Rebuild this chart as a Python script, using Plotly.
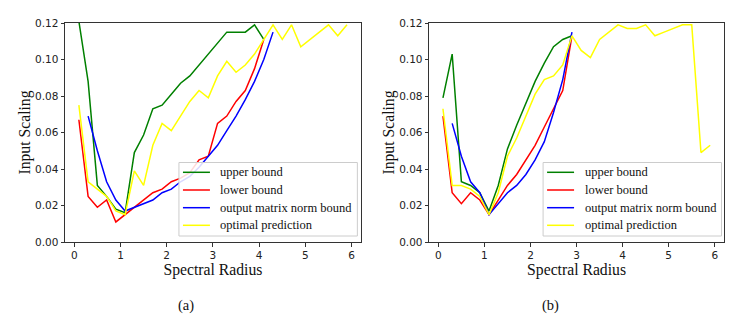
import plotly.graph_objects as go

x_all = [round(0.1 + 0.2 * i, 1) for i in range(30)]

# Panel (a)
a_upper_x = x_all[:21]
a_upper = [0.121, 0.088, 0.031, 0.025, 0.018, 0.016, 0.049, 0.0586, 0.073, 0.075, 0.081,
           0.087, 0.091, 0.097, 0.103, 0.109, 0.115, 0.115, 0.115, 0.119, 0.111]
a_lower_x = x_all[:21]
a_lower = [0.067, 0.025, 0.019, 0.023, 0.011, 0.015, 0.019, 0.023, 0.027, 0.029, 0.033,
           0.035, 0.038, 0.045, 0.047, 0.065, 0.069, 0.077, 0.083, 0.095, 0.111]
a_norm_x = x_all[1:22]
a_norm = [0.069, 0.050, 0.033, 0.023, 0.017, 0.019, 0.021, 0.023, 0.027, 0.029, 0.033,
          0.036, 0.041, 0.047, 0.053, 0.061, 0.069, 0.078, 0.088, 0.100, 0.115]
a_opt_x = x_all
a_opt = [0.075, 0.033, 0.029, 0.025, 0.017, 0.015, 0.039, 0.031, 0.053, 0.065, 0.061,
         0.069, 0.077, 0.083, 0.079, 0.091, 0.099, 0.093, 0.097, 0.103, 0.111, 0.119,
         0.111, 0.119, 0.107, 0.111, 0.115, 0.119, 0.113, 0.119]

# Panel (b)
b_upper_x = x_all[:15]
b_upper = [0.079, 0.103, 0.033, 0.031, 0.027, 0.017, 0.031, 0.051, 0.064, 0.076, 0.088,
           0.098, 0.107, 0.111, 0.113]
b_lower_x = x_all[:15]
b_lower = [0.069, 0.027, 0.021, 0.027, 0.023, 0.015, 0.023, 0.031, 0.037, 0.045, 0.053,
           0.063, 0.073, 0.083, 0.113]
b_norm_x = x_all[1:15]
b_norm = [0.065, 0.047, 0.033, 0.027, 0.015, 0.021, 0.027, 0.031, 0.037, 0.045, 0.055,
          0.071, 0.089, 0.115]
b_opt_x = x_all
b_opt = [0.073, 0.031, 0.031, 0.029, 0.025, 0.015, 0.027, 0.047, 0.057, 0.069, 0.081,
         0.089, 0.091, 0.097, 0.113, 0.105, 0.101, 0.111, 0.115, 0.119, 0.117, 0.117,
         0.119, 0.113, 0.115, 0.117, 0.119, 0.119, 0.049, 0.053]

names = ["upper bound", "lower bound", "output matrix norm bound", "optimal prediction"]
colors = ["#008000", "#ff0000", "#0000ff", "#ffff00"]
y_ticks = [0.0, 0.02, 0.04, 0.06, 0.08, 0.10, 0.12]
x_ticks = [0, 1, 2, 3, 4, 5, 6]
captions = ["(a)", "(b)"]

# The page body has an 8px margin, so the figure is drawn 8px in from the window corner.
OFF = 8
W, H = 749 - OFF, 317 - OFF
# reference (window) pixel geometry
PL, PR, PT, PB = 65, 724.3, 23, 242
ML, MR, MT, MB = PL - OFF, (W + OFF) - PR, PT - OFF, (H + OFF) - PB
PW, PH = W - ML - MR, H - MT - MB


def px(xp):
    return (xp - PL) / PW


def py(yp):
    return (PB - yp) / PH


fig = go.Figure()

panels = [
    ([a_upper_x, a_lower_x, a_norm_x, a_opt_x], [a_upper, a_lower, a_norm, a_opt]),
    ([b_upper_x, b_lower_x, b_norm_x, b_opt_x], [b_upper, b_lower, b_norm, b_opt]),
]
ax_suffix = ["", "2"]
for p, (xs, ys) in enumerate(panels):
    for k in range(4):
        fig.add_trace(go.Scatter(
            x=xs[k], y=ys[k], mode="lines", name=names[k],
            line=dict(color=colors[k], width=1.5),
            xaxis="x" + ax_suffix[p], yaxis="y" + ax_suffix[p],
            showlegend=False, hoverinfo="skip",
        ))

xdoms = [[px(65), px(361)], [px(429.3), px(724.3)]]

tickfont = dict(family="DejaVu Sans", size=10.5, color="#222")
titlefont = dict(family="Liberation Serif", size=15.7, color="#111")
common_axis = dict(showgrid=False, zeroline=False, showline=True, linecolor="#333",
                   linewidth=1, mirror=True, ticks="outside", ticklen=3.5,
                   tickcolor="#333", tickfont=tickfont, automargin=False)

layout = dict(
    template="none",
    width=W, height=H, margin=dict(l=ML, r=MR, t=MT, b=MB, autoexpand=False),
    plot_bgcolor="white", paper_bgcolor="white", showlegend=False,
    xaxis=dict(domain=xdoms[0], range=[-0.2, 6.2], tickvals=x_ticks, anchor="y",
               title=dict(text="Spectral Radius", font=titlefont, standoff=2), **common_axis),
    yaxis=dict(domain=[0, 1], range=[0, 0.12], tickvals=y_ticks, tickformat=".2f", anchor="x",
               title=dict(text="Input Scaling", font=titlefont, standoff=0), **common_axis),
    xaxis2=dict(domain=xdoms[1], range=[-0.2, 6.2], tickvals=x_ticks, anchor="y2",
                title=dict(text="Spectral Radius", font=titlefont, standoff=2), **common_axis),
    yaxis2=dict(domain=[0, 1], range=[0, 0.12], tickvals=y_ticks, tickformat=".2f", anchor="x2",
                title=dict(text="Input Scaling", font=titlefont, standoff=0), **common_axis),
)
fig.update_layout(**layout)

# Legends (one per panel), drawn inside each axes' lower-right corner
legfont = dict(family="Liberation Serif", size=12.5, color="#111")
leg_left = [179, 543.3]
row_y = [172.3, 190.0, 207.7, 225.3]
for p in range(2):
    L = leg_left[p]
    fig.add_shape(type="rect", xref="paper", yref="paper",
                  x0=px(L), x1=px(L + 178.5), y0=py(236), y1=py(162.5),
                  line=dict(color="#cccccc", width=1), fillcolor="rgba(255,255,255,0.85)",
                  layer="above")
    for k in range(4):
        fig.add_shape(type="line", xref="paper", yref="paper",
                      x0=px(L + 4), x1=px(L + 31), y0=py(row_y[k]), y1=py(row_y[k]),
                      line=dict(color=colors[k], width=1.5), layer="above")
        fig.add_annotation(text=names[k], x=px(L + 39.5), y=py(row_y[k]),
                           xref="paper", yref="paper", xanchor="left", yanchor="middle",
                           showarrow=False, font=legfont)

cap_x = [186, 551]
for i, cap in enumerate(captions):
    fig.add_annotation(text=cap, x=px(cap_x[i]), y=py(305), xref="paper", yref="paper",
                       xanchor="center", yanchor="middle", showarrow=False,
                       font=dict(family="Liberation Serif", size=14.5, color="#111"))

fig.write_html("out.html")
